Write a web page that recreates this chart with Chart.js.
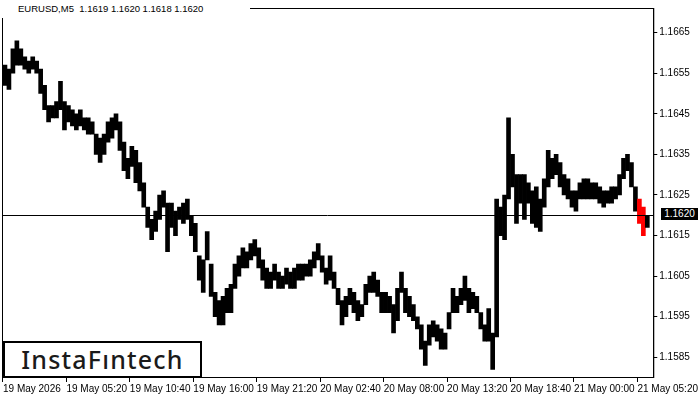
<!DOCTYPE html>
<html>
<head>
<meta charset="utf-8">
<title>EURUSD M5</title>
<script src="https://cdn.jsdelivr.net/npm/chart.js@4.4.1/dist/chart.umd.min.js"></script>
<style>
    html, body { margin: 0; padding: 0; background: #fff; }
    #wrap { position: relative; width: 700px; height: 400px; }
    #header {
        position: absolute; left: 0; top: 0; width: 250px; height: 18px;
        background: #fff; color: #000; box-sizing: border-box; padding-left: 18px;
        font: 9.5px 'Liberation Sans', Arial, sans-serif; line-height: 18px; white-space: pre;
    }
    #logo {
        position: absolute; left: 3px; top: 341px; width: 199px; height: 37px;
        box-sizing: border-box; border: 2px solid #000; background: #fff; color: #1a1a1a;
        font: 500 25px 'Noto Sans', sans-serif; letter-spacing: 1.2px; line-height: 33px; text-align: center;
    }
    #lastPrice {
        position: absolute; left: 661px; width: 37px; height: 12px;
        background: #000; color: #fff; text-align: center;
        font: 10px 'Liberation Sans', Arial, sans-serif; line-height: 12px;
    }
</style>
</head>
<body>
<div id="wrap">
    <canvas id="chart" width="700" height="400"></canvas>
    <div id="header">EURUSD,M5  1.1619 1.1620 1.1618 1.1620</div>
    <div id="logo">InstaFıntech</div>
    <div id="lastPrice">1.1620</div>
</div>
<script>
// 20-minute ranges (4 x M5 bars)
const highs = [
    1.1657, 1.1656, 1.1661, 1.1663, 1.1661, 1.1659, 1.1658, 1.1659, 1.1658, 1.1656,
    1.1652, 1.1647, 1.1647, 1.1648, 1.1653, 1.1648, 1.1647, 1.1646, 1.1645, 1.1646,
    1.1644, 1.1644, 1.1643, 1.1640, 1.1639, 1.1640, 1.1643, 1.1644, 1.1645, 1.1643,
    1.1638, 1.1634, 1.1637, 1.1636, 1.1633, 1.1628, 1.1622, 1.1619, 1.1621, 1.1625,
    1.1626, 1.1623, 1.1623, 1.1621, 1.1622, 1.1623, 1.1624, 1.1620, 1.1618, 1.1610,
    1.1609, 1.1616, 1.1608, 1.1601, 1.1599, 1.1600, 1.1602, 1.1603, 1.1608, 1.1610,
    1.1612, 1.1611, 1.1613, 1.1614, 1.1612, 1.1609, 1.1607, 1.1606, 1.1608, 1.1606,
    1.1605, 1.1607, 1.1606, 1.1607, 1.1608, 1.1608, 1.1608, 1.1609, 1.1611, 1.1613,
    1.1610, 1.1607, 1.1610, 1.1606, 1.1602, 1.1599, 1.1600, 1.1602, 1.1601, 1.1599,
    1.1598, 1.1603, 1.1605, 1.1606, 1.1604, 1.1601, 1.1601, 1.1600, 1.1598, 1.1602,
    1.1606, 1.1602, 1.1600, 1.1598, 1.1595, 1.1593, 1.1589, 1.1593, 1.1594, 1.1593,
    1.1592, 1.1591, 1.1596, 1.1602, 1.1600, 1.1602, 1.1605, 1.1602, 1.1601, 1.1600,
    1.1596, 1.1593, 1.1597, 1.1591, 1.1624, 1.1622, 1.1625, 1.1644, 1.1635, 1.1630,
    1.1630, 1.1630, 1.1628, 1.1626, 1.1627, 1.1624, 1.1629, 1.1636, 1.1634, 1.1635,
    1.1633, 1.1630, 1.1629, 1.1626, 1.1626, 1.1628, 1.1629, 1.1629, 1.1628, 1.1628,
    1.1627, 1.1626, 1.1626, 1.1627, 1.1627, 1.1630, 1.1634, 1.1635, 1.1633, 1.1627,
    1.1624, 1.1622, 1.1620
];
const lows = [
    1.1652, 1.1651, 1.1655, 1.1657, 1.1657, 1.1656, 1.1655, 1.1656, 1.1655, 1.1650,
    1.1646, 1.1643, 1.1644, 1.1644, 1.1646, 1.1641, 1.1643, 1.1642, 1.1641, 1.1642,
    1.1641, 1.1640, 1.1640, 1.1635, 1.1633, 1.1635, 1.1638, 1.1639, 1.1641, 1.1636,
    1.1631, 1.1629, 1.1632, 1.1628, 1.1626, 1.1622, 1.1617, 1.1614, 1.1616, 1.1619,
    1.1622, 1.1611, 1.1617, 1.1615, 1.1619, 1.1618, 1.1619, 1.1615, 1.1611, 1.1604,
    1.1601, 1.1609, 1.1600, 1.1595, 1.1593, 1.1593, 1.1596, 1.1596, 1.1602, 1.1605,
    1.1607, 1.1607, 1.1609, 1.1610, 1.1607, 1.1604, 1.1602, 1.1602, 1.1604, 1.1602,
    1.1602, 1.1603, 1.1602, 1.1602, 1.1604, 1.1604, 1.1605, 1.1605, 1.1607, 1.1609,
    1.1606, 1.1603, 1.1604, 1.1602, 1.1598, 1.1593, 1.1595, 1.1598, 1.1596, 1.1594,
    1.1595, 1.1598, 1.1601, 1.1601, 1.1600, 1.1596, 1.1596, 1.1596, 1.1591, 1.1594,
    1.1601, 1.1596, 1.1595, 1.1594, 1.1592, 1.1587, 1.1583, 1.1588, 1.1590, 1.1589,
    1.1587, 1.1587, 1.1592, 1.1596, 1.1596, 1.1598, 1.1599, 1.1596, 1.1597, 1.1596,
    1.1592, 1.1589, 1.1589, 1.1582, 1.1590, 1.1615, 1.1614, 1.1624, 1.1627, 1.1618,
    1.1623, 1.1619, 1.1623, 1.1618, 1.1617, 1.1616, 1.1622, 1.1627, 1.1629, 1.1630,
    1.1627, 1.1625, 1.1624, 1.1622, 1.1621, 1.1624, 1.1624, 1.1624, 1.1624, 1.1624,
    1.1623, 1.1622, 1.1623, 1.1623, 1.1624, 1.1625, 1.1629, 1.1631, 1.1627, 1.1621,
    1.1618, 1.1615, 1.1617
];
// entries drawn in red at the end of the chart
const redFrom = 160;
const redTo = 161;

const barsPerEntry = 4;
const lastPrice = 1.1620;

const xTickBars = [0, 64, 128, 192, 256, 320, 384, 448, 512, 576, 640];
const xLabels = [
    '19 May 2026', '19 May 05:20', '19 May 10:40', '19 May 16:00', '19 May 21:20',
    '20 May 02:40', '20 May 08:00', '20 May 13:20', '20 May 18:40', '21 May 00:00', '21 May 05:20'
];
const yTicks = [1.1585, 1.1595, 1.1605, 1.1615, 1.1625, 1.1635, 1.1645, 1.1655, 1.1665];

const FONT = "'Liberation Sans', Arial, sans-serif";

const points = highs.map((h, k) => ({ x: k * barsPerEntry + barsPerEntry / 2, y: [lows[k], h] }));
const colors = highs.map((h, k) => (k >= redFrom && k <= redTo) ? '#ff0000' : '#000000');

// frame + last price line
const framePlugin = {
    id: 'frame',
    afterDraw(chart) {
        const { ctx, chartArea: a } = chart;
        const y = Math.round(chart.scales.y.getPixelForValue(lastPrice)) + 0.5;
        ctx.save();
        ctx.strokeStyle = '#000';
        ctx.lineWidth = 1;
        ctx.strokeRect(a.left + 0.5, a.top + 0.5, a.right - a.left, a.bottom - a.top);
        ctx.beginPath();
        ctx.moveTo(a.left, y);
        ctx.lineTo(a.right, y);
        ctx.stroke();
        ctx.restore();
        document.getElementById('lastPrice').style.top = (y - 7.5) + 'px';
    }
};

new Chart(document.getElementById('chart'), {
    type: 'bar',
    data: {
        datasets: [{
            data: points,
            backgroundColor: colors,
            borderWidth: 0,
            barThickness: barsPerEntry
        }]
    },
    options: {
        responsive: false,
        animation: false,
        layout: { padding: { left: 2, top: 2, right: 0, bottom: 0 } },
        plugins: {
            legend: { display: false },
            tooltip: { enabled: false }
        },
        scales: {
            x: {
                type: 'linear',
                min: -1,
                max: 656,
                offset: false,
                afterBuildTicks: s => { s.ticks = xTickBars.map(v => ({ value: v })); },
                afterFit: s => { s.height = 23; },
                grid: { offset: false, drawOnChartArea: false, tickLength: 5, color: '#000' },
                border: { color: '#000' },
                ticks: {
                    autoSkip: false,
                    maxRotation: 0,
                    minRotation: 0,
                    align: 'start',
                    padding: 1,
                    color: '#000',
                    font: { family: FONT, size: 10 },
                    callback: (v, i) => xLabels[i]
                }
            },
            y: {
                position: 'right',
                min: 1.158015,
                max: 1.167106,
                beginAtZero: false,
                afterBuildTicks: s => { s.ticks = yTicks.map(v => ({ value: v })); },
                afterFit: s => { s.width = 41; },
                grid: { drawOnChartArea: false, tickLength: 4, color: '#000' },
                border: { color: '#000' },
                ticks: {
                    padding: 2,
                    crossAlign: 'near',
                    color: '#000',
                    font: { family: FONT, size: 10 },
                    callback: v => v.toFixed(4)
                }
            }
        }
    },
    plugins: [framePlugin]
});
</script>
</body>
</html>
